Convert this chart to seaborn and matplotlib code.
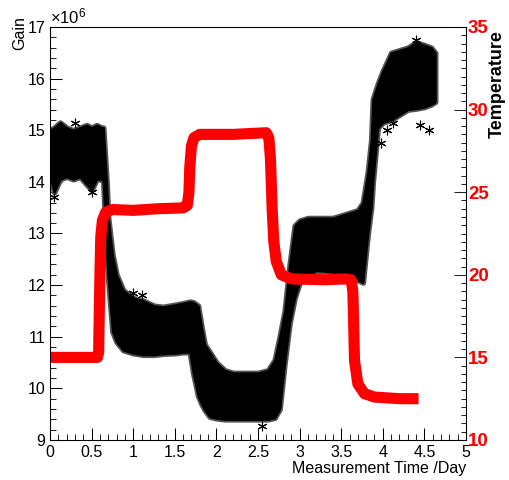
import numpy as np
import pandas as pd
import matplotlib
matplotlib.use("Agg")
import matplotlib.pyplot as plt
import seaborn as sns
from matplotlib.ticker import MultipleLocator

# ---------------- data ----------------
gain_t = [0.0, 0.05, 0.12, 0.2, 0.28, 0.36, 0.44, 0.5, 0.56, 0.62, 0.64, 0.68, 0.70,
          0.75, 0.80, 0.88, 1.0, 1.12, 1.25, 1.36, 1.5, 1.6, 1.68, 1.72, 1.78, 1.82,
          1.86, 1.92, 2.0, 2.1, 2.2, 2.35, 2.5, 2.62, 2.7, 2.76, 2.82, 2.88, 2.94,
          3.0, 3.1, 3.2, 3.3, 3.4, 3.5, 3.6, 3.7, 3.76, 3.82, 3.86, 3.88, 3.94, 4.0,
          4.1, 4.2, 4.3, 4.4, 4.5, 4.58, 4.63]
gain_hi = [15.0, 15.05, 15.15, 15.05, 15.0, 15.05, 15.1, 15.05, 15.1, 15.05, 15.05, 14.0, 13.3,
           12.6, 12.2, 11.9, 11.75, 11.7, 11.6, 11.58, 11.62, 11.65, 11.68, 11.67, 11.6, 11.2,
           10.85, 10.7, 10.5, 10.35, 10.3, 10.3, 10.3, 10.35, 10.55, 11.0, 11.5, 12.4, 13.15,
           13.25, 13.3, 13.3, 13.3, 13.3, 13.35, 13.4, 13.45, 13.6, 14.2, 14.8, 15.6, 15.9, 16.15,
           16.5, 16.55, 16.6, 16.7, 16.65, 16.6, 16.5]
gain_lo = [14.1, 13.8, 14.05, 14.1, 14.05, 14.1, 13.95, 13.85, 14.05, 14.05, 14.0, 12.6, 12.1,
           11.1, 10.9, 10.74, 10.68, 10.65, 10.65, 10.67, 10.68, 10.7, 10.7, 10.3, 9.85, 9.7,
           9.58, 9.45, 9.42, 9.4, 9.4, 9.4, 9.4, 9.4, 9.43, 9.6, 10.5, 11.27, 11.75,
           12.05, 12.2, 12.28, 12.27, 12.25, 12.25, 12.2, 12.1, 12.05, 13.0, 13.5, 14.0, 15.05, 15.15,
           15.2, 15.3, 15.4, 15.42, 15.45, 15.5, 15.55]

outlier_t = [0.05, 0.5, 1.0, 1.1, 2.55, 4.45, 4.55, 3.98, 4.05, 4.12, 4.4, 0.3]
outlier_g = [13.7, 13.8, 11.85, 11.8, 9.28, 15.1, 15.0, 14.75, 15.0, 15.15, 16.75, 15.15]

temp_t = [0.0, 0.57, 0.585, 0.59, 0.60, 0.61, 0.63, 0.67, 0.75, 1.0, 1.3, 1.6, 1.65,
          1.67, 1.68, 1.70, 1.73, 1.80, 2.2, 2.6, 2.63, 2.65, 2.67, 2.69, 2.72, 2.78,
          2.9, 3.3, 3.55, 3.62, 3.64, 3.65, 3.66, 3.70, 3.78, 3.9, 4.2, 4.43]
temp_v = [15.0, 15.0, 15.3, 17.0, 20.0, 22.3, 23.3, 23.8, 23.95, 23.9, 24.0, 24.05, 24.2,
          25.0, 26.5, 27.8, 28.3, 28.5, 28.5, 28.6, 28.3, 27.0, 24.0, 22.0, 20.8, 20.0,
          19.75, 19.7, 19.75, 19.7, 19.0, 17.0, 14.8, 13.4, 12.8, 12.6, 12.5, 12.5]

x_ticks = [0, 0.5, 1, 1.5, 2, 2.5, 3, 3.5, 4, 4.5, 5]
x_ticklabels = ["0", "0.5", "1", "1.5", "2", "2.5", "3", "3.5", "4", "4.5", "5"]
gain_ticks = [9, 10, 11, 12, 13, 14, 15, 16, 17]
temp_ticks = [10, 15, 20, 25, 30, 35]

# ---------------- styling ----------------
sns.set_style("ticks")
plt.rcParams["font.family"] = ["Liberation Sans", "DejaVu Sans"]
plt.rcParams["mathtext.default"] = "regular"

W, H = 509, 480
fig = plt.figure(figsize=(W / 100, H / 100), dpi=100)
L, R, B, T = 50, 466, 440, 27
ax = fig.add_axes([L / W, 1 - B / H, (R - L) / W, (B - T) / H])

band = pd.DataFrame({"t": gain_t, "hi": gain_hi, "lo": gain_lo})
# fuzzy edge of the band of asterisk markers, then the solid core
ax.fill_between(band["t"], band["lo"], band["hi"], facecolor="#555555",
                edgecolor="#555555", lw=4, zorder=1.5)
ax.fill_between(band["t"], band["lo"], band["hi"], facecolor="black",
                edgecolor="black", lw=1.5, zorder=2)
outl = pd.DataFrame({"t": outlier_t, "g": outlier_g})
sns.scatterplot(data=outl, x="t", y="g", ax=ax, marker=(6, 2, 0), s=40,
                color="black", edgecolor="#222222", linewidth=0.8, zorder=3, legend=False)

ax.set_xlim(0, 5)
ax.set_ylim(9, 17)
ax.set_xticks(x_ticks)
ax.set_xticklabels(x_ticklabels)
ax.set_yticks(gain_ticks)
ax.set_yticklabels([str(v) for v in gain_ticks])
ax.xaxis.set_minor_locator(MultipleLocator(0.1))
ax.yaxis.set_minor_locator(MultipleLocator(0.2))
ax.tick_params(axis="both", which="major", direction="in", length=8.6, width=0.75,
               labelsize=11.5, colors="black", pad=3.5, top=False, right=False)
ax.tick_params(axis="both", which="minor", direction="in", length=4.3, width=0.75,
               top=False, right=False)
ax.set_xlabel("")
ax.set_ylabel("")
for s in ax.spines.values():
    s.set_linewidth(0.75)
    s.set_color("black")
    s.set_visible(True)

ax2 = ax.twinx()
temp = pd.DataFrame({"t": temp_t, "T": temp_v})
sns.lineplot(data=temp, x="t", y="T", ax=ax2, color="#ff0000", lw=8,
             solid_capstyle="butt", solid_joinstyle="round", estimator=None, sort=False)
ax2.set_ylim(10, 35)
ax2.set_xlim(0, 5)
ax2.set_yticks(temp_ticks)
ax2.set_yticklabels([str(v) for v in temp_ticks], fontweight="bold", color="#ff0000")
ax2.yaxis.set_minor_locator(MultipleLocator(0.5))
ax2.tick_params(axis="y", which="major", direction="in", length=8.6, width=0.75,
                labelsize=13.5, pad=1.5, left=False, right=True, labelcolor="#ff0000")
ax2.tick_params(axis="y", which="minor", direction="in", length=3.6, width=0.75,
                left=False, right=True)
ax2.set_xlabel("")
ax2.set_ylabel("")
for s in ax2.spines.values():
    s.set_linewidth(0.75)
    s.set_color("black")

fig.text(466 / W, 1 - 473 / H, "Measurement Time /Day", ha="right", va="baseline",
         fontsize=11.5, color="black")
fig.text(20 / W, 1 - 16 / H, "Gain", ha="center", va="top", rotation=90,
         fontsize=11.5, color="black")
fig.text(50 / W, 1 - 23 / H, r"$\times10^{6}$", ha="left", va="baseline",
         fontsize=12, color="black")
fig.text(497 / W, 1 - 30 / H, "Temperature", ha="center", va="top", rotation=90,
         fontsize=13, fontweight="bold", color="black")

fig.savefig("out.png", dpi=100)
